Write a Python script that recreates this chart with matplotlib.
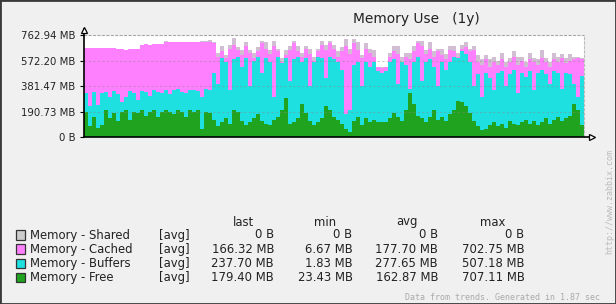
import numpy as np
import matplotlib
matplotlib.use('Agg')
import matplotlib.pyplot as plt
from matplotlib.patches import Rectangle
from matplotlib.lines import Line2D

# ---- data (MB), stacked levels ----
# top of "Free" layer
free_top = [190, 80, 150, 70, 90, 200, 140, 180, 120, 190, 200, 130, 190, 180, 200, 160,
            190, 200, 150, 190, 200, 190, 170, 200, 190, 150, 200, 190, 200, 60, 190, 180,
            130, 80, 110, 140, 100, 200, 190, 120, 90, 110, 140, 170, 120, 100, 90, 130,
            150, 200, 290, 100, 110, 140, 250, 180, 120, 90, 110, 140, 230, 200, 150,
            130, 100, 60, 40, 120, 150, 90, 140, 110, 130, 115, 112, 112, 140, 180, 150,
            120, 200, 330, 250, 160, 140, 110, 150, 200, 130, 150, 120, 170, 200, 270,
            260, 230, 180, 120, 80, 50, 60, 90, 110, 80, 100, 70, 120, 100, 90, 110,
            130, 100, 120, 90, 110, 140, 100, 130, 150, 120, 140, 160, 250, 200, 90]
# top of "Buffers" layer (Free + Buffers)
buffers_top = [330, 230, 340, 240, 330, 340, 300, 345, 320, 260, 300, 345, 330, 280, 345, 335,
               310, 350, 340, 330, 355, 320, 350, 360, 340, 330, 355, 350, 345, 300, 360, 350,
               480, 400, 590, 560, 350, 580, 600, 520, 590, 380, 570, 600, 480, 590, 560, 300,
               600, 550, 590, 420, 580, 600, 560, 590, 380, 560, 600, 590, 440, 600, 580,
               560, 500, 170, 200, 540, 560, 380, 560, 520, 560, 490, 480, 490, 560, 580, 400,
               560, 540, 360, 560, 600, 420, 560, 580, 520, 380, 560, 500, 560, 600, 590,
               640, 620, 560, 380, 470, 300, 480, 440, 350, 480, 490, 380, 470, 500, 330, 480,
               450, 490, 350, 480, 500, 470, 400, 490, 480, 360, 480, 470, 400, 300, 460]
# top of "Cached" layer (Free + Buffers + Cached)
cached_top = [667, 667, 665, 667, 668, 667, 666, 667, 655, 655, 654, 655, 655, 656, 690, 692,
              690, 693, 692, 695, 712, 713, 712, 710, 712, 714, 712, 711, 712, 713, 712, 712,
              700, 600, 640, 590, 660, 690, 650, 610, 680, 630, 590, 640, 700, 660, 620, 680,
              640, 560, 610, 650, 700, 640, 600, 660, 620, 570, 640, 690, 650, 700, 660,
              600, 640, 680, 620, 700, 650, 590, 660, 630, 600, 520, 518, 520, 600, 640, 620,
              560, 600, 580, 640, 700, 680, 620, 660, 600, 640, 610, 580, 650, 640, 600,
              660, 670, 640, 650, 560, 540, 580, 520, 560, 540, 580, 520, 560, 600, 540, 570,
              520, 580, 560, 540, 590, 560, 520, 580, 560, 590, 550, 570, 580, 590, 580]
# "Shared" band thickness on top
shared_band = [0, 0, 0, 0, 0, 0, 0, 0, 0, 0, 0, 0, 0, 0, 0, 0,
               0, 0, 0, 0, 8, 0, 0, 0, 0, 0, 0, 0, 0, 6, 8, 10,
               10, 30, 40, 20, 30, 50, 20, 40, 30, 20, 40, 30, 20, 50, 30, 40,
               20, 30, 40, 30, 20, 40, 30, 20, 40, 30, 20, 30, 40, 20, 30,
               40, 30, 50, 40, 30, 60, 20, 40, 30, 50, 5, 5, 5, 30, 40, 60,
               40, 30, 50, 40, 20, 40, 30, 50, 40, 20, 50, 40, 30, 40, 30,
               30, 40, 20, 30, 50, 40, 30, 60, 40, 30, 50, 40, 30, 40, 60, 30,
               40, 50, 30, 40, 60, 30, 40, 50, 40, 30, 40, 50, 20, 10, 10]

y_ticks = [0, 190.73, 381.47, 572.20, 762.94]
y_labels = ['0 B', '190.73 MB', '381.47 MB', '572.20 MB', '762.94 MB']

legend_names = ['Memory - Shared', 'Memory - Cached', 'Memory - Buffers', 'Memory - Free']
legend_last = ['0 B', '166.32 MB', '237.70 MB', '179.40 MB']
legend_min = ['0 B', '6.67 MB', '1.83 MB', '23.43 MB']
legend_avg = ['0 B', '177.70 MB', '277.65 MB', '162.87 MB']
legend_max = ['0 B', '702.75 MB', '507.18 MB', '707.11 MB']

C_GREEN = '#20A31F'
C_CYAN = '#1EE0E0'
C_PINK = '#FF80FF'
C_SHARED = '#D2BED2'
legend_colors = ['#CCCCCC', C_PINK, C_CYAN, C_GREEN]

W, H = 616, 304
fig = plt.figure(figsize=(W / 100, H / 100), dpi=100, facecolor='#F0F0F0')

def fx(x):
    return x / W

def fy(y):
    return 1 - y / H

ax = fig.add_axes([fx(84), fy(137), 500 / W, 102 / H])
ax.set_facecolor('white')

f = np.array(free_top, float)
b = np.array(buffers_top, float)
c = np.array(cached_top, float)
s = c + np.array(shared_band, float)
n = len(f)
edges = np.arange(n + 1)

ax.stairs(s, edges, baseline=c, fill=True, color=C_SHARED, lw=0)
ax.stairs(c, edges, baseline=b, fill=True, color=C_PINK, lw=0)
ax.stairs(b, edges, baseline=f, fill=True, color=C_CYAN, lw=0)
ax.stairs(f, edges, baseline=0, fill=True, color=C_GREEN, lw=0)

ax.set_xlim(0, n)
ax.set_ylim(0, 762.94)
ax.set_xticks([])
ax.set_yticks(y_ticks)
ax.set_yticklabels(y_labels, fontsize=7.3, color='#222222')
ax.tick_params(axis='y', length=3, width=0.8, pad=3, color='black')
ax.set_axisbelow(False)
ax.yaxis.grid(True, linestyle=(0, (2, 2)), color='#888888', alpha=0.45, lw=0.8)

for sp in ['top', 'right']:
    ax.spines[sp].set_linestyle((0, (2, 2)))
    ax.spines[sp].set_color('#BBBBBB')
    ax.spines[sp].set_linewidth(0.8)
ax.spines['left'].set_visible(False)
ax.spines['bottom'].set_visible(False)

# axis lines with arrows
fig.add_artist(Line2D([fx(84.3), fx(84.3)], [fy(137), fy(29)], color='black', lw=1.2))
fig.add_artist(Line2D([fx(84), fx(591)], [fy(136.8), fy(136.8)], color='black', lw=1.2))
fig.add_artist(Line2D([fx(84.3)], [fy(29.5)], marker='^', markersize=5, markerfacecolor='white',
                      markeredgecolor='black', markeredgewidth=0.9))
fig.add_artist(Line2D([fx(592)], [fy(136.8)], marker='>', markersize=5, markerfacecolor='white',
                      markeredgecolor='black', markeredgewidth=0.9))

# title
fig.text(fx(416), fy(19), 'Memory Use   (1y)', ha='center', va='center', fontsize=9.9, color='#222222')

# legend
fs = 8.4
fig.text(fx(243), fy(222), 'last', ha='center', va='center', fontsize=fs, color='#222222')
fig.text(fx(325), fy(222), 'min', ha='center', va='center', fontsize=fs, color='#222222')
fig.text(fx(407), fy(222), 'avg', ha='center', va='center', fontsize=fs, color='#222222')
fig.text(fx(493), fy(222), 'max', ha='center', va='center', fontsize=fs, color='#222222')
row_y = [235, 249.2, 263.3, 277.5]
for i in range(4):
    y = row_y[i]
    fig.add_artist(Rectangle((fx(15.7), fy(y + 4.7)), 9.4 / W, 9.4 / H, facecolor=legend_colors[i],
                             edgecolor='#333333', lw=0.9))
    fig.text(fx(30.5), fy(y), legend_names[i], ha='left', va='center', fontsize=fs, color='#222222')
    fig.text(fx(159), fy(y), '[avg]', ha='left', va='center', fontsize=fs, color='#222222')
    fig.text(fx(274), fy(y), legend_last[i], ha='right', va='center', fontsize=fs, color='#222222')
    fig.text(fx(352.5), fy(y), legend_min[i], ha='right', va='center', fontsize=fs, color='#222222')
    fig.text(fx(438), fy(y), legend_avg[i], ha='right', va='center', fontsize=fs, color='#222222')
    fig.text(fx(524.5), fy(y), legend_max[i], ha='right', va='center', fontsize=fs, color='#222222')

fig.text(fx(600), fy(297), 'Data from trends. Generated in 1.87 sec', ha='right', va='center',
         fontsize=6, family='DejaVu Sans Mono', color='#AAAAAA')
fig.text(fx(610), fy(202), 'http://www.zabbix.com', ha='center', va='center', rotation=90,
         fontsize=6, family='DejaVu Sans Mono', color='#BBBBBB')

fig.add_artist(Rectangle((0, 0), 1, 1, transform=fig.transFigure, fill=False,
                         edgecolor='#3A3A3A', lw=2))

fig.savefig('out.png', dpi=100, facecolor=fig.get_facecolor())
